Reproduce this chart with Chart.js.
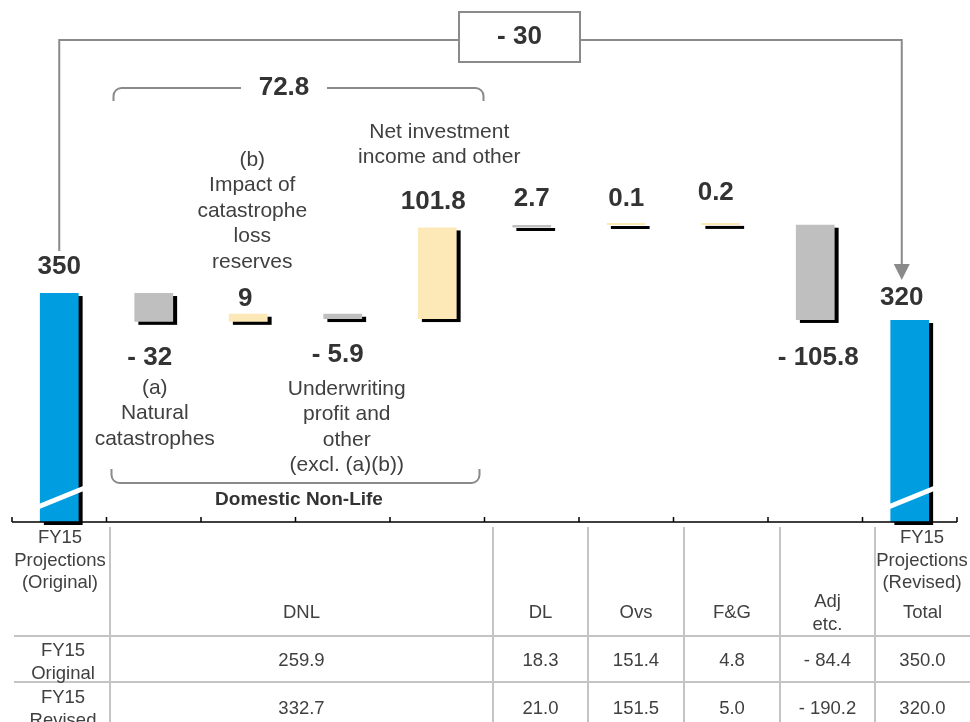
<!DOCTYPE html>
<html>
<head>
<meta charset="utf-8">
<script src="https://cdn.jsdelivr.net/npm/chart.js@4.4.1/dist/chart.umd.min.js"></script>
<style>
  html, body { margin: 0; padding: 0; background: #fff; }
  #wrap { position: relative; width: 970px; height: 722px; overflow: hidden;
          font-family: "Liberation Sans", Arial, sans-serif; color: #404040; }
  #chart { position: absolute; left: 0; top: 0; }
  .cell { position: absolute; text-align: center; font-size: 18.5px; line-height: 22.5px; white-space: nowrap; }
  .mid { transform: translateY(-50%); }
  .vline { position: absolute; width: 2px; background: #c4c4c4; }
  .hline { position: absolute; height: 2px; background: #c4c4c4; }
</style>
</head>
<body>
<div id="wrap">
  <canvas id="chart" width="970" height="530"></canvas>
  <div id="table"></div>
</div>
<script>
// -------------------------------------------------------------
// Data
// -------------------------------------------------------------
const categories = ['FY15 Projections (Original)', 'Natural catastrophes', 'Impact of catastrophe loss reserves',
  'Underwriting profit and other', 'Net investment income and other', 'DL', 'Ovs', 'F&G', 'Adj etc.',
  'FY15 Projections (Revised)']
const changes = [350, -32, 9, -5.9, 101.8, 2.7, 0.1, 0.2, -105.8, 320]
const valueLabels = ['350', '- 32', '9', '- 5.9', '101.8', '2.7', '0.1', '0.2', '- 105.8', '320']
const barColors = ['#009ee0', '#bfbfbf', '#fde8b8', '#bfbfbf', '#fde8b8', '#bfbfbf', '#fde8b8', '#fde8b8', '#bfbfbf', '#009ee0']
const domesticNonLifeTotal = '72.8'
const overallChange = '- 30'
const groupLabel = 'Domestic Non-Life'

const tableColumns = ['DNL', 'DL', 'Ovs', 'F&G', 'Adj|etc.', 'Total']
const originalRow = ['259.9', '18.3', '151.4', '4.8', '- 84.4', '350.0']
const revisedRow = ['332.7', '21.0', '151.5', '5.0', '- 190.2', '320.0']

// -------------------------------------------------------------
// Waterfall ranges (totals are drawn from the broken axis floor)
// -------------------------------------------------------------
const Y_MIN = 95.6
const Y_MAX = 675.6
let running = 0
const ranges = changes.map((v, i) => {
  if (i === 0 || i === changes.length - 1) { running = v; return [Y_MIN, v] }
  const from = running
  running += v
  return [from, running]
})

const FONT = '"Liberation Sans", Arial, sans-serif'
const LINE_GRAY = '#8a8a8a'
const el = id => document.getElementById(id)

// label tweaks (pixels) and the descriptive notes next to the value labels
const labelNudge = { 1: { dx: -4 }, 2: { dx: -3, dy: 11 }, 3: { dx: -5 }, 4: { dx: -4 }, 7: { dx: -5, dy: -6 }, 8: { dx: 3, dy: 2 }, 9: { dx: -8, dy: 4 } }
const notes = [
  { index: 1, lines: ['(a)', 'Natural', 'catastrophes'], dx: 1, dy: 30 },
  { index: 2, lines: ['(b)', 'Impact of', 'catastrophe', 'loss', 'reserves'], dx: 4, dy: -37 },
  { index: 3, lines: ['Underwriting', 'profit and', 'other', '(excl. (a)(b))'], dx: 4, dy: 34 },
  { index: 4, lines: ['Net investment', 'income and other'], dx: 2, dy: -44 }
]

// -------------------------------------------------------------
// Plugins
// -------------------------------------------------------------
const shadowPlugin = {
  id: 'shadow',
  beforeDatasetsDraw(chart) {
    const ctx = chart.ctx
    ctx.save()
    ctx.fillStyle = '#000'
    chart.getDatasetMeta(0).data.forEach(bar => {
      const { x, y, base, width } = bar.getProps(['x', 'y', 'base', 'width'], true)
      const top = Math.min(y, base)
      const h = Math.max(Math.abs(base - y), 3)
      ctx.fillRect(x - width / 2 + 4, top + 3, width, h)
    })
    ctx.restore()
  }
}

const breakPlugin = {
  id: 'axisBreak',
  afterDatasetsDraw(chart) {
    const ctx = chart.ctx
    const bottom = chart.chartArea.bottom
    const meta = chart.getDatasetMeta(0)
    ctx.save()
    ctx.strokeStyle = '#fff'
    ctx.lineWidth = 5
    ;[0, changes.length - 1].forEach(i => {
      const { x, width } = meta.data[i].getProps(['x', 'width'], true)
      ctx.beginPath()
      ctx.moveTo(x - width / 2 - 2, bottom - 15)
      ctx.lineTo(x + width / 2 + 6, bottom - 34)
      ctx.stroke()
    })
    ctx.restore()
  }
}

function bracket(ctx, x1, x2, y, hook, r) {
  const s = Math.sign(hook)
  ctx.beginPath()
  ctx.moveTo(x1, y + hook)
  ctx.lineTo(x1, y + s * r)
  ctx.arcTo(x1, y, x1 + r, y, r)
  ctx.lineTo(x2 - r, y)
  ctx.arcTo(x2, y, x2, y + s * r, r)
  ctx.lineTo(x2, y + hook)
  ctx.stroke()
}

function textLines(ctx, lines, x, y, lh) {
  lines.forEach((t, k) => ctx.fillText(t, x, y + k * lh))
}

const annotatePlugin = {
  id: 'annotate',
  afterDraw(chart) {
    const ctx = chart.ctx
    const xs = chart.scales.x
    const ys = chart.scales.y
    const area = chart.chartArea
    const step = (area.right - area.left) / categories.length
    const edge = i => area.left + i * step

    ctx.save()
    // x axis line with upward ticks at category boundaries
    ctx.strokeStyle = '#000'
    ctx.lineWidth = 1.5
    ctx.beginPath()
    ctx.moveTo(area.left, area.bottom)
    ctx.lineTo(area.right, area.bottom)
    for (let i = 0; i <= categories.length; i++) {
      ctx.moveTo(edge(i), area.bottom)
      ctx.lineTo(edge(i), area.bottom - 5)
    }
    ctx.stroke()

    // value labels
    const labelPos = ranges.map((r, i) => {
      const n = labelNudge[i] || {}
      const neg = i > 0 && i < changes.length - 1 && changes[i] < 0
      const y = neg ? ys.getPixelForValue(Math.min(r[0], r[1])) + 36 : ys.getPixelForValue(Math.max(r[0], r[1])) - 26
      return { x: xs.getPixelForValue(i) + (n.dx || 0), y: y + (n.dy || 0) }
    })
    ctx.fillStyle = '#333'
    ctx.font = 'bold 26px ' + FONT
    ctx.textAlign = 'center'
    ctx.textBaseline = 'middle'
    valueLabels.forEach((t, i) => ctx.fillText(t, labelPos[i].x, labelPos[i].y))

    // descriptive notes
    const LH = 25.5
    ctx.fillStyle = '#404040'
    ctx.font = '21px ' + FONT
    notes.forEach(n => {
      const p = labelPos[n.index]
      const x = xs.getPixelForValue(n.index) + n.dx
      const y0 = n.dy > 0 ? p.y + n.dy : p.y + n.dy - (n.lines.length - 1) * LH
      textLines(ctx, n.lines, x, y0, LH)
    })

    // overall change connector: original total -> revised total
    const first = labelPos[0]
    const last = labelPos[changes.length - 1]
    const topY = 40
    ctx.strokeStyle = LINE_GRAY
    ctx.fillStyle = LINE_GRAY
    ctx.lineWidth = 2
    ctx.beginPath()
    ctx.moveTo(xs.getPixelForValue(0), first.y - 16)
    ctx.lineTo(xs.getPixelForValue(0), topY)
    ctx.lineTo(last.x, topY)
    ctx.lineTo(last.x, last.y - 33)
    ctx.stroke()
    ctx.beginPath()
    ctx.moveTo(last.x - 8, last.y - 34)
    ctx.lineTo(last.x + 8, last.y - 34)
    ctx.lineTo(last.x, last.y - 18)
    ctx.closePath()
    ctx.fill()
    const boxX = 459, boxW = 121
    ctx.fillStyle = '#fff'
    ctx.fillRect(boxX, 12, boxW, 50)
    ctx.strokeRect(boxX, 12, boxW, 50)
    ctx.fillStyle = '#333'
    ctx.font = 'bold 26px ' + FONT
    ctx.fillText(overallChange, boxX + boxW / 2, 37)

    // Domestic Non-Life brackets
    const gx1 = edge(1) + 5
    const gx2 = edge(5) - 1
    ctx.strokeStyle = LINE_GRAY
    bracket(ctx, gx1 + 2, gx2, 88, 13, 8)
    ctx.fillStyle = '#fff'
    ctx.fillRect(241, 76, 86, 24)
    ctx.fillStyle = '#333'
    ctx.fillText(domesticNonLifeTotal, 284, 88)

    bracket(ctx, gx1, gx2 - 4, 483, -14, 8)
    ctx.font = 'bold 19px ' + FONT
    ctx.fillText(groupLabel, 299, 500)
    ctx.restore()
  }
}

new Chart(el('chart'), {
  type: 'bar',
  data: {
    labels: categories,
    datasets: [{
      data: ranges,
      backgroundColor: barColors,
      borderWidth: 0,
      barPercentage: 0.41,
      categoryPercentage: 1,
      minBarLength: 2
    }]
  },
  options: {
    responsive: false,
    animation: false,
    layout: { padding: { left: 12, right: 13, top: 0, bottom: 8 } },
    plugins: { legend: { display: false }, tooltip: { enabled: false } },
    scales: {
      x: { display: false },
      y: { display: false, min: Y_MIN, max: Y_MAX }
    }
  },
  plugins: [shadowPlugin, breakPlugin, annotatePlugin]
})

// -------------------------------------------------------------
// Table under the chart
// -------------------------------------------------------------
function renderTable() {
  const colEdges = [110, 493, 588, 684, 780, 875, 970]
  const parts = []
  const cell = (x1, x2, top, lines, cls = '') =>
    `<div class="cell ${cls}" style="left:${x1}px;width:${x2 - x1}px;top:${top}px">${lines.join('<br>')}</div>`

  colEdges.slice(0, -1).forEach(x => parts.push(`<div class="vline" style="left:${x - 1}px;top:527px;height:195px"></div>`))
  ;[636, 682].forEach(y => parts.push(`<div class="hline" style="left:14px;width:956px;top:${y - 1}px"></div>`))

  parts.push(cell(10, 110, 526, ['FY15', 'Projections', '(Original)']))
  parts.push(cell(874, 970, 526, ['FY15', 'Projections', '(Revised)']))
  tableColumns.forEach((c, i) => parts.push(cell(colEdges[i], colEdges[i + 1], 612, c.split('|'), 'mid')))
  parts.push(cell(14, 112, 661, ['FY15', 'Original'], 'mid'))
  parts.push(cell(14, 112, 708, ['FY15', 'Revised'], 'mid'))
  originalRow.forEach((v, i) => parts.push(cell(colEdges[i], colEdges[i + 1], 660, [v], 'mid')))
  revisedRow.forEach((v, i) => parts.push(cell(colEdges[i], colEdges[i + 1], 708, [v], 'mid')))

  el('table').innerHTML = parts.join('')
}

renderTable()
</script>
</body>
</html>
